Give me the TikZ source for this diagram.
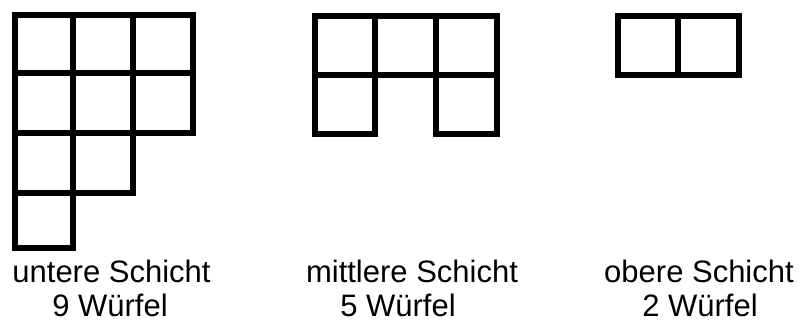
\documentclass[tikz,border=0pt]{standalone}
\usepackage{fontspec}
\setmainfont{Liberation Sans}
\begin{document}
\begin{tikzpicture}[x=1pt,y=-1pt,
  cell/.style={draw=black,line width=6pt,line join=miter},
  lbl/.style={inner sep=0pt,anchor=base,text depth=0pt,font=\fontsize{31}{37}\selectfont}]
\useasboundingbox (0,0) rectangle (801,323);
% untere Schicht
\draw[cell] (15,15) rectangle (73,73);
\draw[cell] (73,15) rectangle (133,73);
\draw[cell] (133,15) rectangle (193,73);
\draw[cell] (15,73) rectangle (73,133);
\draw[cell] (73,73) rectangle (133,133);
\draw[cell] (133,73) rectangle (193,133);
\draw[cell] (15,133) rectangle (73,193);
\draw[cell] (73,133) rectangle (133,193);
\draw[cell] (15,193) rectangle (73,248);
% mittlere Schicht
\draw[cell] (315,16) rectangle (375,75);
\draw[cell] (375,16) rectangle (436,75);
\draw[cell] (436,16) rectangle (497,75);
\draw[cell] (315,75) rectangle (375,134);
\draw[cell] (436,75) rectangle (497,134);
% obere Schicht
\draw[cell] (618,16) rectangle (678,75);
\draw[cell] (678,16) rectangle (739,75);
% Beschriftungen
\node[lbl] (u1) at (111.5,282.5) {untere Schicht};
\node[lbl] (u2) at (110,316.5) {9 Würfel};
\node[lbl] (m1) at (412,282.5) {mittlere Schicht};
\node[lbl] (m2) at (398,316.5) {5 Würfel};
\node[lbl] (o1) at (699,282.5) {obere Schicht};
\node[lbl] (o2) at (700,316.5) {2 Würfel};
\end{tikzpicture}
\end{document}
